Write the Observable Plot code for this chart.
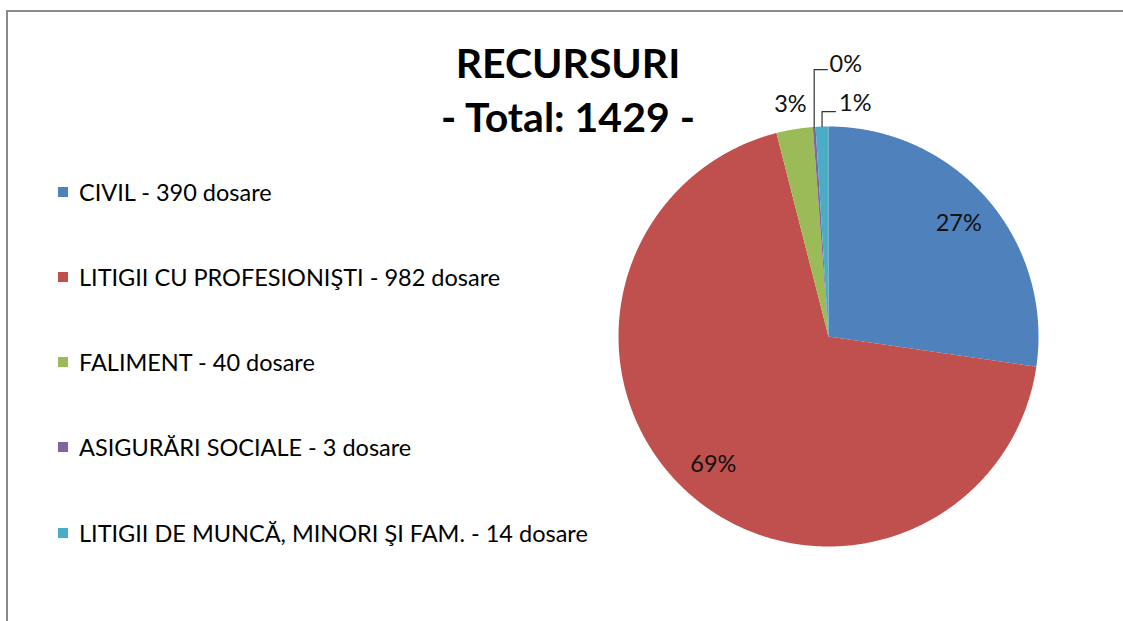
<!DOCTYPE html>
<html>
<head>
<meta charset="utf-8">
<script src="https://cdn.jsdelivr.net/npm/d3@7"></script>
<script src="https://cdn.jsdelivr.net/npm/@observablehq/plot@0.6"></script>
<style>
  body { margin: 0; background: #fff; font-family: Lato, "Open Sans", sans-serif; }
  #wrap { position: relative; width: 1123px; height: 621px; overflow: hidden; background: #fff; }
  #frame { position: absolute; left: 6px; top: 10px; width: 1200px; height: 700px;
           border-left: 2px solid #8a8a8a; border-top: 2px solid #8a8a8a; }
  #title { position: absolute; left: 318px; width: 500px; top: 36px; text-align: center;
           font: bold 41px/54px Lato, sans-serif; color: #000; }
  .leg { position: absolute; left: 58px; height: 30px; display: flex; align-items: center;
         font: 23.5px Lato, sans-serif; color: #000; white-space: nowrap; }
  .sw { width: 10px; height: 10px; margin-right: 11px; flex: none; }
  #chart { position: absolute; left: 0; top: 0; }
</style>
</head>
<body>
<div id="wrap">
  <div id="frame"></div>
  <div id="chart"></div>
  <div id="title"></div>
  <div id="legend"></div>
</div>
<script>
// ---- data ----
const titleLines = ["RECURSURI", "- Total: 1429 -"];
const categories = ["CIVIL", "LITIGII CU PROFESIONIŞTI", "FALIMENT", "ASIGURĂRI SOCIALE", "LITIGII DE MUNCĂ, MINORI ŞI FAM."];
const values = [390, 982, 40, 3, 14];
const unitLabel = "dosare";
const colors = ["#4F81BD", "#C0504D", "#9BBB59", "#8064A2", "#4BACC6"];

// ---- layout (pixels) ----
const W = 1123, H = 621, CX = 828, CY = 336, R = 210;
const legendY = [192, 277, 362, 447, 533];
// outside-label layout in pie units (radius = 1)
const outside = {
  2: {mode: "radial", r: 1.12},
  3: {mode: "leader", tx: 0.005, ty: 1.295, ly: 1.271, lx: -0.005},
  4: {mode: "leader", tx: 0.05, ty: 1.11, ly: 1.071, lx: 0.033}
};

const total = d3.sum(values);
document.getElementById("title").innerHTML = titleLines.map(t => `<div>${t}</div>`).join("");

const legend = document.getElementById("legend");
categories.forEach((c, i) => {
  const d = document.createElement("div");
  d.className = "leg";
  d.style.top = (legendY[i] - 15) + "px";
  d.innerHTML = `<span class="sw" style="background:${colors[i]}"></span><span>${c} - ${values[i]} ${unitLabel}</span>`;
  legend.appendChild(d);
});

const arcs = d3.pie().sort(null)(values);
const poly = [];
arcs.forEach((a, i) => {
  const cat = categories[i];
  poly.push({cat, x: 0, y: 0});
  const n = Math.max(2, Math.ceil((a.endAngle - a.startAngle) / 0.005));
  for (let k = 0; k <= n; k++) {
    const t = a.startAngle + (a.endAngle - a.startAngle) * k / n;
    poly.push({cat, x: Math.sin(t), y: Math.cos(t)});
  }
  poly.push({cat, x: 0, y: 0});
});

const labels = [], leaders = [];
arcs.forEach((a, i) => {
  const pct = Math.round(values[i] / total * 100) + "%";
  const mid = (a.startAngle + a.endAngle) / 2;
  const o = outside[i];
  if (!o) {
    labels.push({x: 0.82 * Math.sin(mid), y: 0.82 * Math.cos(mid), text: pct, anchor: "middle"});
  } else if (o.mode === "radial") {
    labels.push({x: o.r * Math.sin(mid), y: o.r * Math.cos(mid), text: pct, anchor: "middle"});
  } else {
    const sx = Math.sin(mid), sy = Math.cos(mid);
    leaders.push({id: i, x: sx, y: sy}, {id: i, x: sx, y: o.ly}, {id: i, x: o.lx, y: o.ly});
    labels.push({x: o.tx, y: o.ty, text: pct, anchor: "start"});
  }
});

const chart = Plot.plot({
  width: W, height: H, margin: 0,
  style: {background: "transparent", overflow: "visible"},
  x: {domain: [-CX / R, (W - CX) / R], axis: null},
  y: {domain: [-(H - CY) / R, CY / R], axis: null},
  color: {domain: categories, range: colors},
  marks: [
    Plot.line(poly, {x: "x", y: "y", z: "cat", fill: "cat", stroke: "none", curve: "linear"}),
    Plot.line(leaders, {x: "x", y: "y", z: "id", stroke: "#333", strokeWidth: 1.2}),
    Plot.text(labels.filter(d => d.anchor === "middle"), {x: "x", y: "y", text: "text", textAnchor: "middle",
      fontSize: 23.5, fill: "#111", fontFamily: "Lato, sans-serif"}),
    Plot.text(labels.filter(d => d.anchor === "start"), {x: "x", y: "y", text: "text", textAnchor: "start",
      fontSize: 23.5, fill: "#111", fontFamily: "Lato, sans-serif"})
  ]
});
document.getElementById("chart").appendChild(chart);
</script>
</body>
</html>
